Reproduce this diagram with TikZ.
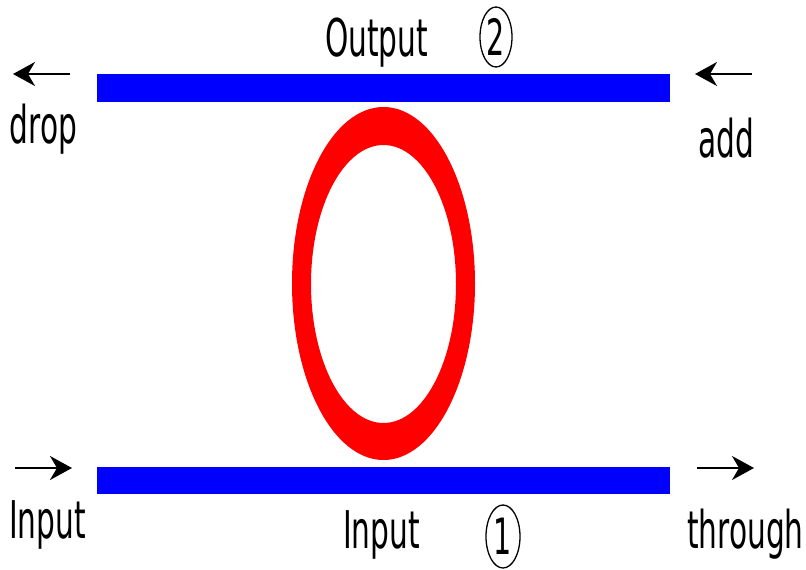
\documentclass[tikz,border=0pt]{standalone}
\usepackage{fontspec}
\setmainfont{DejaVu Sans}
\usetikzlibrary{arrows.meta,shapes.geometric}
\newcommand\narrow[1]{\scalebox{0.57}[1]{#1}}
\definecolor{barblue}{RGB}{0,0,255}
\definecolor{ringred}{RGB}{255,0,0}
\tikzset{
  lbl/.style={anchor=base, inner sep=0pt, font=\fontsize{52}{60}\selectfont},
  bar/.style={fill=barblue, draw=none, minimum width=573pt, inner sep=0pt},
  circnum/.style={ellipse, draw=black, line width=1.3pt, inner sep=0pt,
     minimum width=32pt, minimum height=60pt, font=\fontsize{50}{54}\selectfont},
  arr/.style={line width=1.8pt, -{Stealth[length=22pt,width=24pt,inset=7pt]}}
}
\begin{document}
\begin{tikzpicture}[x=1pt,y=-1pt]
\useasboundingbox (0,0) rectangle (806,570);
% bus waveguides
\node[bar, minimum height=28pt] (topbar) at (383.5,88) {};
\node[bar, minimum height=27pt] (botbar) at (383.5,480.5) {};
% ring
\fill[ringred, even odd rule]
  (383.5,283.5) ellipse [x radius=91.5pt, y radius=176.5pt]
  (383.5,284) ellipse [x radius=72.5pt, y radius=139pt];
% arrows
\coordinate (dropS) at (70,74);  \coordinate (dropT) at (13,74);
\coordinate (addS) at (752,74);  \coordinate (addT) at (695,74);
\coordinate (inS) at (15,468);   \coordinate (inT) at (72,468);
\coordinate (thS) at (697,468);  \coordinate (thT) at (754,468);
\draw[arr] (dropS) -- (dropT);
\draw[arr] (addS) -- (addT);
\draw[arr] (inS) -- (inT);
\draw[arr] (thS) -- (thT);
% labels
\node[lbl] (output) at (376.5,56) {\narrow{Output}};
\node[lbl] (drop) at (43.5,143) {\narrow{drop}};
\node[lbl] (add) at (726.5,157) {\narrow{add}};
\node[lbl] (inleft) at (47.5,538) {\narrow{Input}};
\node[lbl] (inbot) at (381.5,548) {\narrow{Input}};
\node[lbl] (through) at (745.5,548) {\narrow{through}};
% circled numbers
\node[circnum] (c2) at (496,37) {\narrow{2}};
\node[circnum, minimum width=34pt, minimum height=63pt] (c1) at (503,536.5) {\narrow{1}};
\end{tikzpicture}
\end{document}
